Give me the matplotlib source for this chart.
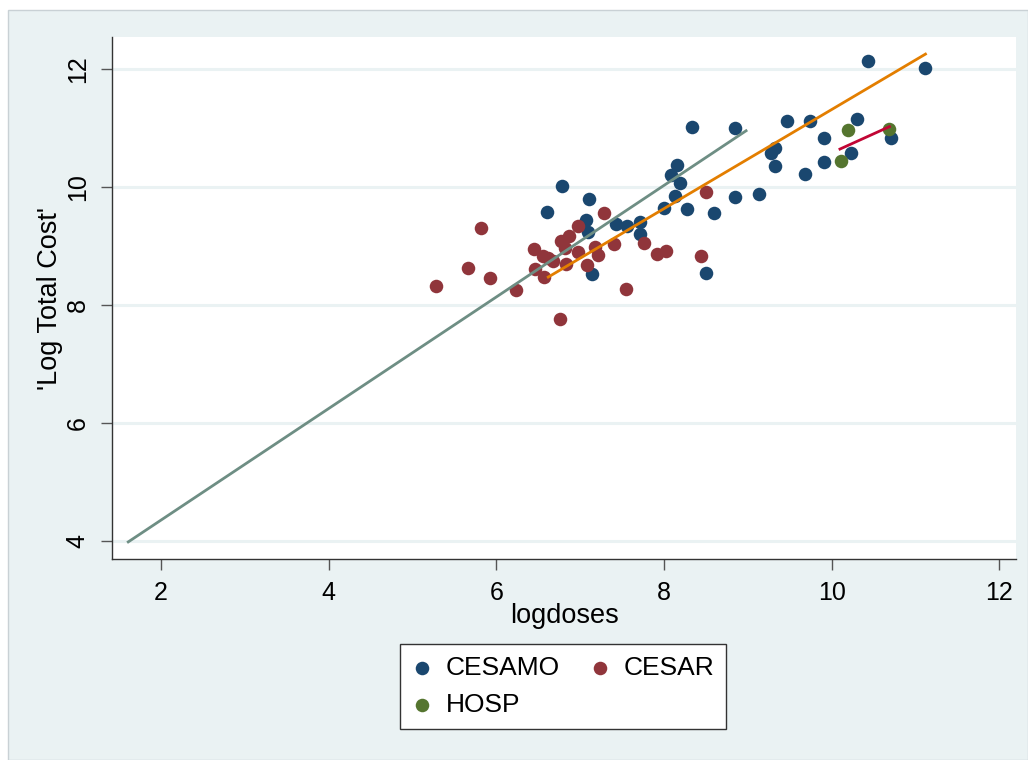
import matplotlib
matplotlib.use("Agg")
import matplotlib.pyplot as plt
from matplotlib.patches import Rectangle

plt.rcParams['font.family'] = ['Liberation Sans', 'DejaVu Sans']

# scatter data (logdoses, log total cost)
cesamo_x = [6.60, 6.78, 7.07, 7.11, 7.09, 7.14, 7.43, 7.56, 7.71, 7.72, 8.00, 8.09,
            8.16, 8.19, 8.13, 8.28, 8.33, 8.60, 8.50, 8.85, 8.85, 9.14, 9.28, 9.33,
            9.32, 9.47, 9.68, 9.74, 9.91, 9.91, 10.23, 10.30, 10.44, 10.71, 11.11]
cesamo_y = [9.57, 10.02, 9.44, 9.80, 9.24, 8.52, 9.37, 9.34, 9.41, 9.20, 9.64, 10.20,
            10.37, 10.07, 9.85, 9.63, 11.02, 9.56, 8.54, 11.00, 9.83, 9.88, 10.58, 10.66,
            10.36, 11.12, 10.22, 11.12, 10.82, 10.42, 10.58, 11.15, 12.14, 10.83, 12.02]

cesar_x = [5.28, 5.66, 5.82, 5.92, 6.23, 6.45, 6.46, 6.56, 6.62, 6.57, 6.68, 6.76,
           6.77, 6.82, 6.87, 6.83, 6.97, 6.97, 7.08, 7.18, 7.21, 7.28, 7.40, 7.55,
           7.76, 7.92, 8.02, 8.44, 8.50]
cesar_y = [8.32, 8.62, 9.30, 8.46, 8.25, 8.95, 8.61, 8.83, 8.79, 8.47, 8.74, 7.76,
           9.08, 8.96, 9.16, 8.69, 9.33, 8.90, 8.68, 8.98, 8.85, 9.56, 9.03, 8.27,
           9.05, 8.86, 8.91, 8.83, 9.91]

hosp_x = [10.11, 10.19, 10.68]
hosp_y = [10.44, 10.97, 10.98]

# fitted lines (end points)
fit_all_x = [1.61, 8.98]
fit_all_y = [3.98, 10.95]
fit_orange_x = [6.62, 11.12]
fit_orange_y = [8.47, 12.25]
fit_hosp_x = [10.10, 10.69]
fit_hosp_y = [10.64, 11.02]

xticks = [2, 4, 6, 8, 10, 12]
yticks = [4, 6, 8, 10, 12]

W, H = 1028, 760
fig = plt.figure(figsize=(W / 100, H / 100), dpi=100)
fig.patch.set_facecolor('white')
fig.patches.append(Rectangle((8 / W, 0), 1 - 8 / W, 1 - 10 / H, transform=fig.transFigure,
                             facecolor='#eaf2f3', edgecolor='#c9d1d5', linewidth=1, zorder=-5))

ax = fig.add_axes([112 / W, (H - 559) / H, (1016 - 112) / W, (559 - 37) / H])
ax.set_facecolor('white')
ax.set_xlim(1.416, 12.2)
ax.set_ylim(3.69, 12.54)

for y in yticks:
    ax.axhline(y, color='#eaf2f3', linewidth=2.2, zorder=0)

ax.scatter(cesamo_x, cesamo_y, s=95, color='#1a476f', linewidths=0, label='CESAMO', zorder=2)
ax.scatter(cesar_x, cesar_y, s=95, color='#90353b', linewidths=0, label='CESAR', zorder=2)
ax.scatter(hosp_x, hosp_y, s=95, color='#55752f', linewidths=0, label='HOSP', zorder=2)

ax.plot(fit_all_x, fit_all_y, color='#6e8e84', linewidth=2, zorder=3)
ax.plot(fit_orange_x, fit_orange_y, color='#e37e00', linewidth=2, zorder=3)
ax.plot(fit_hosp_x, fit_hosp_y, color='#c10534', linewidth=2, zorder=3)

for s in ['top', 'right']:
    ax.spines[s].set_visible(False)
for s in ['left', 'bottom']:
    ax.spines[s].set_color('#333333')
    ax.spines[s].set_linewidth(1)

ax.set_xticks(xticks)
ax.set_yticks(yticks)
ax.tick_params(axis='both', direction='out', length=8, width=1, color='#555555',
               labelsize=18, pad=8)
for lab in ax.get_yticklabels():
    lab.set_rotation(90)
    lab.set_va('center')

ax.set_xlabel('logdoses', fontsize=19.5)
ax.xaxis.set_label_coords(0.5, -0.084)
ax.xaxis.label.set_va('top')
ax.set_ylabel("'Log Total Cost'", fontsize=19.5)
ax.yaxis.set_label_coords(-0.054, 0.5)

h, l = ax.get_legend_handles_labels()
order = [0, 2, 1]
leg = fig.legend([h[i] for i in order], [l[i] for i in order], ncol=2,
                 loc='center', bbox_to_anchor=((403 + 723) / 2 / W, 1 - (644 + 729) / 2 / H),
                 fontsize=19, frameon=True, fancybox=False, edgecolor='#333333',
                 facecolor='white', framealpha=1,
                 handlelength=0.8, handletextpad=0.5, columnspacing=1.1,
                 borderpad=0.45, labelspacing=0.5, scatterpoints=1, markerscale=1.0)
leg.get_frame().set_linewidth(1)

fig.savefig('out.png', dpi=100)
